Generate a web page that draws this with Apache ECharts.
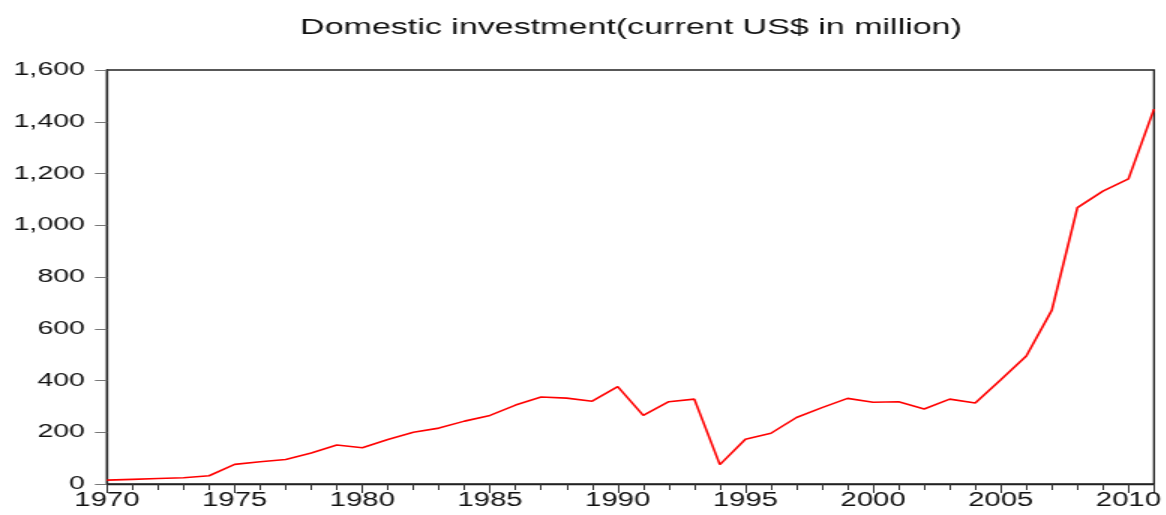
<!DOCTYPE html>
<html>
<head>
<meta charset="utf-8">
<script src="https://cdn.jsdelivr.net/npm/echarts@6/dist/echarts.min.js"></script>
<style>
html,body{margin:0;padding:0;background:#fff;overflow:hidden;}
#c{width:777.33px;height:515px;transform:scaleX(1.5);transform-origin:0 0;}
</style>
</head>
<body>
<div id="c"></div>
<script>
const years = [1970,1971,1972,1973,1974,1975,1976,1977,1978,1979,1980,1981,1982,1983,1984,1985,1986,1987,1988,1989,1990,1991,1992,1993,1994,1995,1996,1997,1998,1999,2000,2001,2002,2003,2004,2005,2006,2007,2008,2009,2010,2011];
const investment = [15,18,21,24,32,76,86,95,120,151,140,172,200,216,243,265,305,336,332,320,376,265,318,328,75,173,196,257,295,331,316,318,290,328,313,403,495,672,1068,1132,1179,1449];
const yTicks = [0,200,400,600,800,1000,1200,1400,1600];
const titleText = 'Domestic investment(current US$ in million)';

const chart = echarts.init(document.getElementById('c'));
const fmt = v => String(v).replace(/\B(?=(\d{3})+(?!\d))/g, ',');
chart.setOption({
  animation: false,
  title: {
    text: titleText, left: 195, top: 11,
    textStyle: {fontFamily: 'Liberation Sans, Arial, sans-serif', fontSize: 22.7, fontWeight: 'normal', color: '#111'}
  },
  grid: {left: 71.3, right: 6, top: 70, bottom: 31, show: true, borderColor: '#222', borderWidth: 1.3, containLabel: false},
  xAxis: [{
    type: 'value', min: years[0], max: years[years.length-1], interval: 1,
    axisLine: {show: true, lineStyle: {color: '#222', width: 1.3}},
    axisTick: {show: true, length: 6, lineStyle: {color: '#333', width: 1}},
    splitLine: {show: false},
    axisLabel: {
      margin: 7, color: '#111', fontFamily: 'Liberation Sans, Arial, sans-serif', fontSize: 19.5,
      formatter: v => (v % 5 === 0 ? String(v) : ''), showMaxLabel: true
    }
  }, {
    type: 'value', min: years[0], max: years[years.length-1], interval: 5, position: 'bottom',
    axisLine: {show: false}, axisLabel: {show: false}, splitLine: {show: false},
    axisTick: {show: true, length: 9, lineStyle: {color: '#333', width: 1}}
  }],
  yAxis: {
    type: 'value', min: yTicks[0], max: yTicks[yTicks.length-1], interval: 200,
    axisLine: {show: true, lineStyle: {color: '#222', width: 1.3}},
    axisTick: {show: true, length: 8, lineStyle: {color: '#777', width: 1}},
    splitLine: {show: false},
    axisLabel: {margin: 14.7, color: '#111', fontFamily: 'Liberation Sans, Arial, sans-serif', fontSize: 19, formatter: fmt}
  },
  series: [{
    type: 'line', xAxisIndex: 0, symbol: 'none',
    lineStyle: {color: '#ff0000', width: 1.6},
    data: years.map((y, i) => [y, investment[i]])
  }]
});
</script>
</body>
</html>
